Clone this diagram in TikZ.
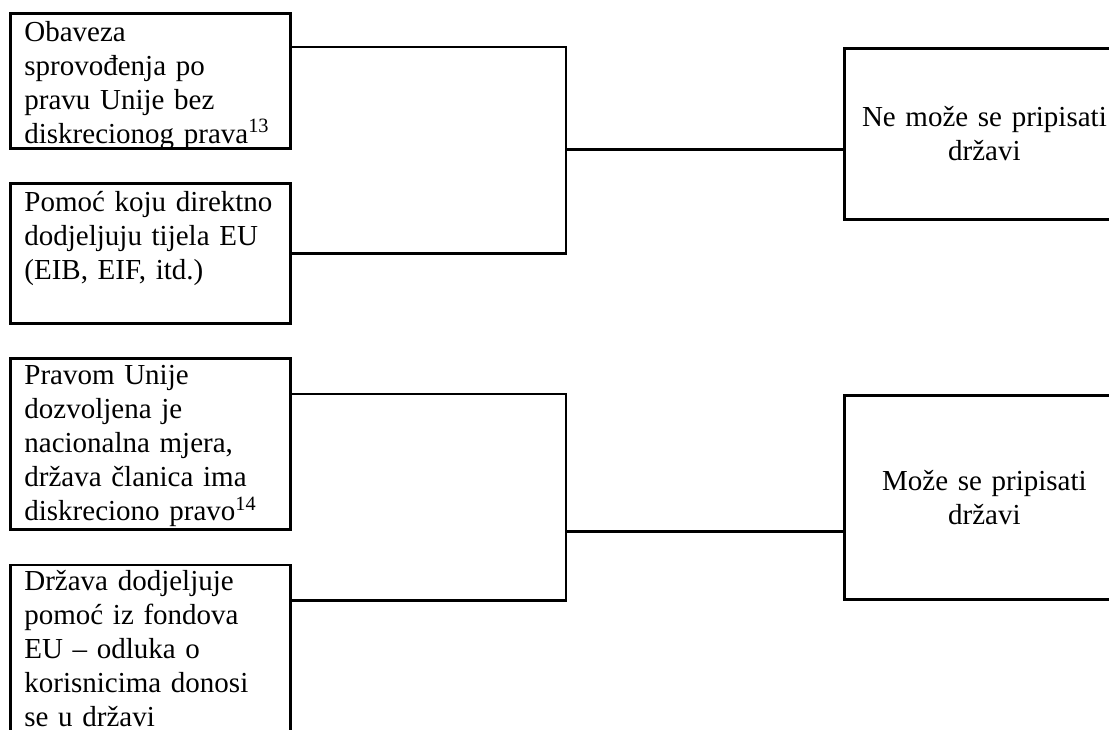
\documentclass[tikz,border=0pt]{standalone}
\usepackage{fontspec}
\setmainfont{Liberation Serif}
\usetikzlibrary{positioning}

\begin{document}
\begin{tikzpicture}[
        x=0.5pt, y=-0.5pt, line width=1.4pt,
        node distance=16.2pt,
        every node/.style={draw, font=\fontsize{14.5}{17}\selectfont, inner xsep=7pt},
        leftbox/.style={text width=126pt, align=left, inner ysep=0pt, text height=14pt},
        rightbox/.style={anchor=north west, text width=126pt, align=center}
        ]
        \clip (0,0) rectangle (1109,729);
        % Nodes
        \node[leftbox, anchor=north west, text depth=53.5pt] (oblig) at (9,12) {Obaveza\\ sprovođenja po\\ pravu Unije bez\\ diskrecionog prava\textsuperscript{13}};
        \node[leftbox, text depth=56pt] (direct) [below=of oblig] {Pomoć koju direktno\\ dodjeljuju tijela EU\\ (EIB, EIF, itd.)};
        \node[leftbox, text height=13pt, text depth=72.5pt] (permit) [below=of direct] {Pravom Unije\\ dozvoljena je\\ nacionalna mjera,\\ država članica ima\\ diskreciono pravo\textsuperscript{14}};
        \node[leftbox, text height=12.5pt, text depth=100pt] (funds) [below=of permit] {Država dodjeljuje\\ pomoć iz fondova\\ EU -- odluka o\\ korisnicima donosi\\ se u državi};
        \node[rightbox, minimum height=85.5pt] (cannot) at (843,47) {Ne može se pripisati\\ državi};
        \node[rightbox, minimum height=102pt] (can) at (843,394) {Može se pripisati\\ državi};
        \coordinate (fork1) at (566,0);
        \coordinate (fork2) at (566,0);

        % Connectors
        \draw (oblig.east |- cannot.north) -| (fork1 |- direct.east) -- (direct.east);
        \draw (fork1 |- oblig.south) -- (cannot.west |- oblig.south);
        \draw (permit.east |- can.north) -| (fork2 |- can.south) -- (funds.east |- can.south);
        \draw (fork2 |- permit.south) -- (can.west |- permit.south);
    \end{tikzpicture}
\end{document}
